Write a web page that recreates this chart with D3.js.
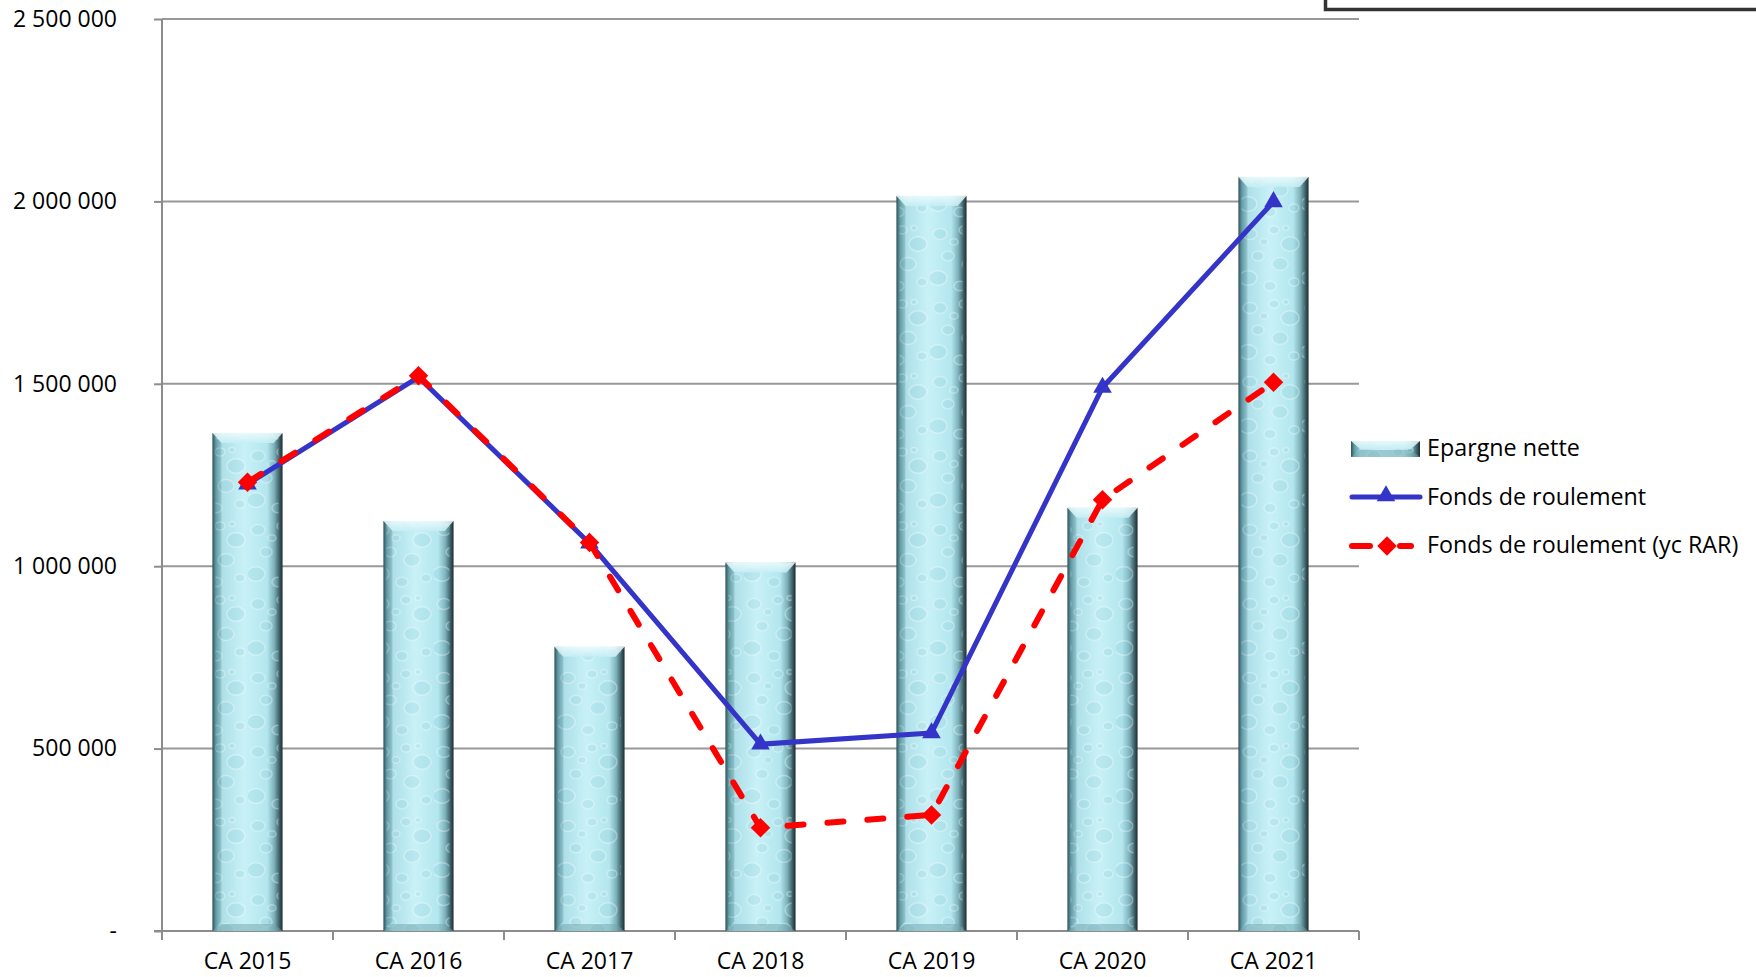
<!DOCTYPE html>
<html><head><meta charset="utf-8">
<script src="https://cdn.jsdelivr.net/npm/d3@7/dist/d3.min.js"></script>
<style>
html,body{margin:0;padding:0;background:#fff;overflow:hidden}
svg{display:block;font-family:"Open Sans",sans-serif}
</style></head>
<body>
<svg id="chart" width="1756" height="977"></svg>
<script>
const categories = ["CA 2015","CA 2016","CA 2017","CA 2018","CA 2019","CA 2020","CA 2021"];
const epargneNette = [1365000,1124000,779000,1010000,2015000,1160000,2067000];
const fondsRoulement = [1225000,1518000,1063000,512000,543000,1490000,1999000];
const fondsRoulementRAR = [1230000,1522000,1065000,283000,318000,1182000,1504000];
const yTicks = [0,500000,1000000,1500000,2000000,2500000];
const seriesNames = ["Epargne nette","Fonds de roulement","Fonds de roulement (yc RAR)"];

const svg = d3.select("#chart");
const defs = svg.append("defs");

// bar gradient
const g1 = defs.append("linearGradient").attr("id","barGrad").attr("x1","0").attr("x2","1").attr("y1","0").attr("y2","0");
[[0,"#2c4c52"],[0.05,"#6aa7b1"],[0.13,"#addfe8"],[0.45,"#c8f1f7"],[0.78,"#b3e6ee"],[0.88,"#7eb2bb"],[0.96,"#3a5a61"],[1,"#1b2b2f"]]
  .forEach(s=>g1.append("stop").attr("offset",s[0]).attr("stop-color",s[1]));
const gTop = defs.append("linearGradient").attr("id","topGrad").attr("x1","0").attr("x2","0").attr("y1","0").attr("y2","1");
[[0,"#eefcfe"],[1,"#c6eef4"]].forEach(s=>gTop.append("stop").attr("offset",s[0]).attr("stop-color",s[1]));

// bubble texture pattern (decorative)
const pat = defs.append("pattern").attr("id","bubbles").attr("patternUnits","userSpaceOnUse").attr("width",62).attr("height",74);
const bub = [[10,12,7],[34,8,5],[50,22,9],[18,34,6],[40,42,8],[8,56,9],[30,64,6],[54,60,5],[24,20,4],[46,6,3]];
bub.forEach(b=>{
  pat.append("ellipse").attr("cx",b[0]).attr("cy",b[1]).attr("rx",b[2]).attr("ry",b[2]*0.8)
    .attr("fill","#86c8d6").attr("fill-opacity",0.3).attr("stroke","#ffffff").attr("stroke-opacity",0.45).attr("stroke-width",1.5);
});

const x = d3.scaleBand().domain(categories).range([162,1359]).paddingInner(0.59).paddingOuter(0.295);
const y = d3.scaleLinear().domain([0,2500000]).range([931,19]);
const cx = c => x(c) + x.bandwidth()/2;

// top-right box (cut off)
svg.append("rect").attr("x",1325.5).attr("y",-30).attr("width",450).attr("height",39.5)
  .attr("fill","#fff").attr("stroke","#333").attr("stroke-width",3.5);

// gridlines
svg.append("g").selectAll("line").data(yTicks.filter(d=>d>0)).join("line")
  .attr("x1",162).attr("x2",1359).attr("y1",d=>y(d)).attr("y2",d=>y(d))
  .attr("stroke","#989898").attr("stroke-width",2);

// y axis
const loc = d3.formatLocale({decimal:",",thousands:" ",grouping:[3],currency:["","€"]});
const fmt = loc.format(",d");
const yAxis = svg.append("g").attr("transform","translate(162,0)")
  .call(d3.axisLeft(y).tickValues(yTicks).tickSize(8).tickPadding(37).tickFormat(d=>d===0?"-":fmt(d)));
yAxis.select(".domain").attr("stroke","#8c8c8c").attr("stroke-width",2).attr("d","M0,"+y(2500000)+"V"+y(0));
yAxis.selectAll(".tick line").attr("stroke","#8c8c8c").attr("stroke-width",2);
yAxis.selectAll(".tick text").attr("font-size",23).attr("fill","#000").attr("font-family","Open Sans").attr("dy","0.32em");

// x axis
const xg = svg.append("g");
xg.append("line").attr("x1",154).attr("x2",1359).attr("y1",931).attr("y2",931).attr("stroke","#8c8c8c").attr("stroke-width",2);
const edges = categories.map(c=>x(c)-(x.step()-x.bandwidth())/2).concat([x(categories[categories.length-1])+x.bandwidth()+(x.step()-x.bandwidth())/2]);
xg.selectAll("line.t").data(edges).join("line").attr("class","t")
  .attr("x1",d=>d).attr("x2",d=>d).attr("y1",931).attr("y2",940).attr("stroke","#8c8c8c").attr("stroke-width",2);
xg.selectAll("text").data(categories).join("text")
  .attr("x",c=>cx(c)).attr("y",969).attr("text-anchor","middle").attr("font-size",23).attr("fill","#000").text(c=>c);

// bars
function drawBar(g, x0, y0, w, h){
  g.append("rect").attr("x",x0).attr("y",y0).attr("width",w).attr("height",h).attr("fill","url(#barGrad)");
  g.append("rect").attr("x",x0+3).attr("y",y0).attr("width",w-7).attr("height",h).attr("fill","url(#bubbles)").attr("opacity",0.7);
  const b = Math.min(10, h/2);
  g.append("path").attr("d",`M${x0},${y0}H${x0+w}L${x0+w-9},${y0+b}H${x0+9}Z`).attr("fill","url(#topGrad)").attr("opacity",0.85);
  g.append("path").attr("d",`M${x0},${y0}L${x0+9},${y0+b}V${y0+h-b}L${x0},${y0+h}Z`).attr("fill","#3f6f77").attr("opacity",0.2);
  g.append("path").attr("d",`M${x0},${y0+h}H${x0+w}L${x0+w-9},${y0+h-7}H${x0+9}Z`).attr("fill","#6fa3ad").attr("opacity",0.5);
}
const barsG = svg.append("g");
categories.forEach((c,i)=>{
  drawBar(barsG, x(c), y(epargneNette[i]), x.bandwidth(), y(0)-y(epargneNette[i]));
});

// lines
const line = d3.line().x((d,i)=>cx(categories[i])).y(d=>y(d));
svg.append("path").datum(fondsRoulement).attr("d",line).attr("fill","none")
  .attr("stroke","#3434c8").attr("stroke-width",5).attr("stroke-linejoin","round");
const tri = d3.symbol().type(d3.symbolTriangle).size(150);
svg.append("g").selectAll("path").data(fondsRoulement).join("path")
  .attr("d",tri).attr("transform",(d,i)=>`translate(${cx(categories[i])},${y(d)})`).attr("fill","#3434c8");

svg.append("path").datum(fondsRoulementRAR).attr("d",line).attr("fill","none")
  .attr("stroke","#ff0000").attr("stroke-width",6).attr("stroke-dasharray","16,24").attr("stroke-linecap","round");
const dia = d3.symbol().type(d3.symbolSquare).size(190);
svg.append("g").selectAll("path").data(fondsRoulementRAR).join("path")
  .attr("d",dia).attr("transform",(d,i)=>`translate(${cx(categories[i])},${y(d)}) rotate(45)`).attr("fill","#ff0000");

// legend
const lg = svg.append("g");
drawBar(lg.append("g"), 1351, 441, 69, 16);
lg.append("line").attr("x1",1352).attr("x2",1420).attr("y1",497).attr("y2",497).attr("stroke","#3434c8").attr("stroke-width",5).attr("stroke-linecap","round");
lg.append("path").attr("d",tri).attr("transform","translate(1386,496)").attr("fill","#3434c8");
lg.append("line").attr("x1",1352).attr("x2",1370).attr("y1",546).attr("y2",546).attr("stroke","#ff0000").attr("stroke-width",6).attr("stroke-linecap","round");
lg.append("line").attr("x1",1400).attr("x2",1411).attr("y1",546).attr("y2",546).attr("stroke","#ff0000").attr("stroke-width",6).attr("stroke-linecap","round");
lg.append("path").attr("d",dia).attr("transform","translate(1387,546) rotate(45)").attr("fill","#ff0000");
lg.selectAll("text").data(seriesNames).join("text")
  .attr("x",1427).attr("y",(d,i)=>[448,497,545][i]).attr("dy","0.35em")
  .attr("font-size",23.3).attr("fill","#000").text(d=>d);
</script>
</body></html>
